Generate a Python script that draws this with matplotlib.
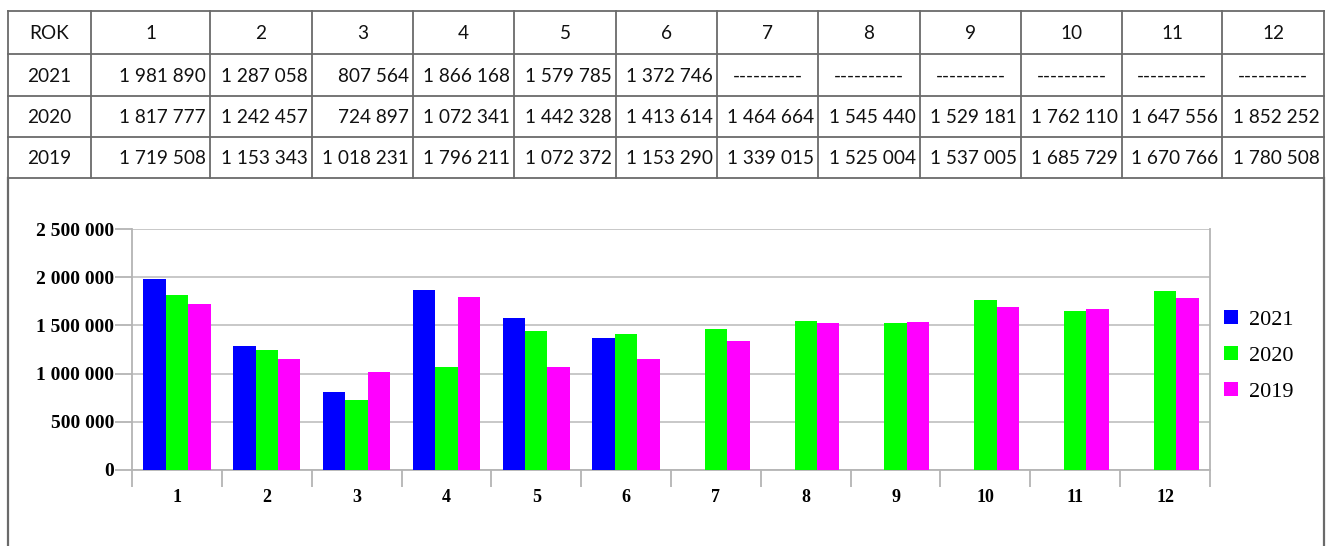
import numpy as np
import matplotlib.pyplot as plt

months = [str(m) for m in range(1, 13)]
years = ["2021", "2020", "2019"]
v2021 = [1981890, 1287058, 807564, 1866168, 1579785, 1372746,
         None, None, None, None, None, None]
v2020 = [1817777, 1242457, 724897, 1072341, 1442328, 1413614,
         1464664, 1545440, 1529181, 1762110, 1647556, 1852252]
v2019 = [1719508, 1153343, 1018231, 1796211, 1072372, 1153290,
         1339015, 1525004, 1537005, 1685729, 1670766, 1780508]
colors = ["#0000ff", "#00ff00", "#ff00ff"]

W, H = 1326, 546


def fmt(v):
    if v is None:
        return "----------"
    return "{:,}".format(v).replace(",", " ")


fig = plt.figure(figsize=(W / 100, H / 100), dpi=100)

# overlay in pixel coordinates for table + frame
ov = fig.add_axes([0, 0, 1, 1])
ov.set_xlim(0, W)
ov.set_ylim(H, 0)
ov.axis("off")

col_x = [8, 91, 210, 312, 413, 514, 616, 717, 818, 920, 1021, 1122, 1222, 1324]
row_y = [11, 54, 96, 137, 178]
lc = "#6a6a6a"
for x in col_x:
    ov.plot([x, x], [row_y[0], row_y[-1]], color=lc, lw=1.3)
for y in row_y:
    ov.plot([col_x[0], col_x[-1]], [y, y], color=lc, lw=1.3)
# outer frame below table
ov.plot([8, 8], [178, H], color=lc, lw=1.6)
ov.plot([1324, 1324], [178, H], color=lc, lw=1.6)

tfont = dict(family="Lato", fontsize=13.7, color="#111111", va="center")
header = ["ROK"] + months
for i, t in enumerate(header):
    ov.text((col_x[i] + col_x[i + 1]) / 2, (row_y[0] + row_y[1]) / 2 + 1, t,
            ha="center", **tfont)
for r, (yr, vals) in enumerate(zip(years, [v2021, v2020, v2019])):
    yc = (row_y[r + 1] + row_y[r + 2]) / 2 + 1
    ov.text((col_x[0] + col_x[1]) / 2, yc, yr, ha="center", **tfont)
    for i, v in enumerate(vals):
        if v is None:
            ov.text((col_x[i + 1] + col_x[i + 2]) / 2, yc, fmt(v), ha="center", **tfont)
        else:
            ov.text(col_x[i + 2] - 4, yc, fmt(v), ha="right", **tfont)

# bar chart
ax = fig.add_axes([132 / W, (H - 470) / H, 1078 / W, (470 - 229) / H])
x = np.arange(len(months))
bw = 0.25
for k, (vals, c, lab) in enumerate(zip([v2021, v2020, v2019], colors, years)):
    arr = np.array([np.nan if v is None else v for v in vals], dtype=float)
    ax.bar(x + (k - 1) * bw, arr, width=bw, color=c, label=lab, zorder=3)

ax.set_xlim(-0.5, len(months) - 0.5)
ax.set_ylim(0, 2500000)
ax.set_yticks(np.arange(0, 2500001, 500000))
ax.set_yticklabels([fmt(int(v)) for v in np.arange(0, 2500001, 500000)],
                   family="Liberation Serif", fontweight="bold", fontsize=14)
ax.set_xticks(x)
ax.set_xticklabels(months, family="Liberation Serif", fontweight="bold", fontsize=13)
ax.set_xticks(np.arange(-0.5, len(months)), minor=True)
ax.tick_params(axis="x", which="major", length=0, pad=14)
ax.tick_params(axis="x", which="minor", length=12, color="#b4b4b4", width=1.3)
ax.tick_params(axis="y", length=12, color="#b4b4b4", width=1.3, pad=1)
ax.grid(axis="y", color="#c4c4c4", lw=1.3, zorder=0)
ax.set_axisbelow(True)
for s in ["left", "right", "bottom"]:
    ax.spines[s].set_color("#b4b4b4")
    ax.spines[s].set_linewidth(1.3)
ax.spines["top"].set_visible(False)

leg = ax.legend(loc="upper left", bbox_to_anchor=(1.005, 0.70), frameon=False,
                prop={"family": "Liberation Serif", "size": 16},
                handlelength=0.6, handleheight=0.6, handletextpad=0.5,
                labelspacing=0.72, borderaxespad=0)

fig.savefig("out.png", dpi=100)
